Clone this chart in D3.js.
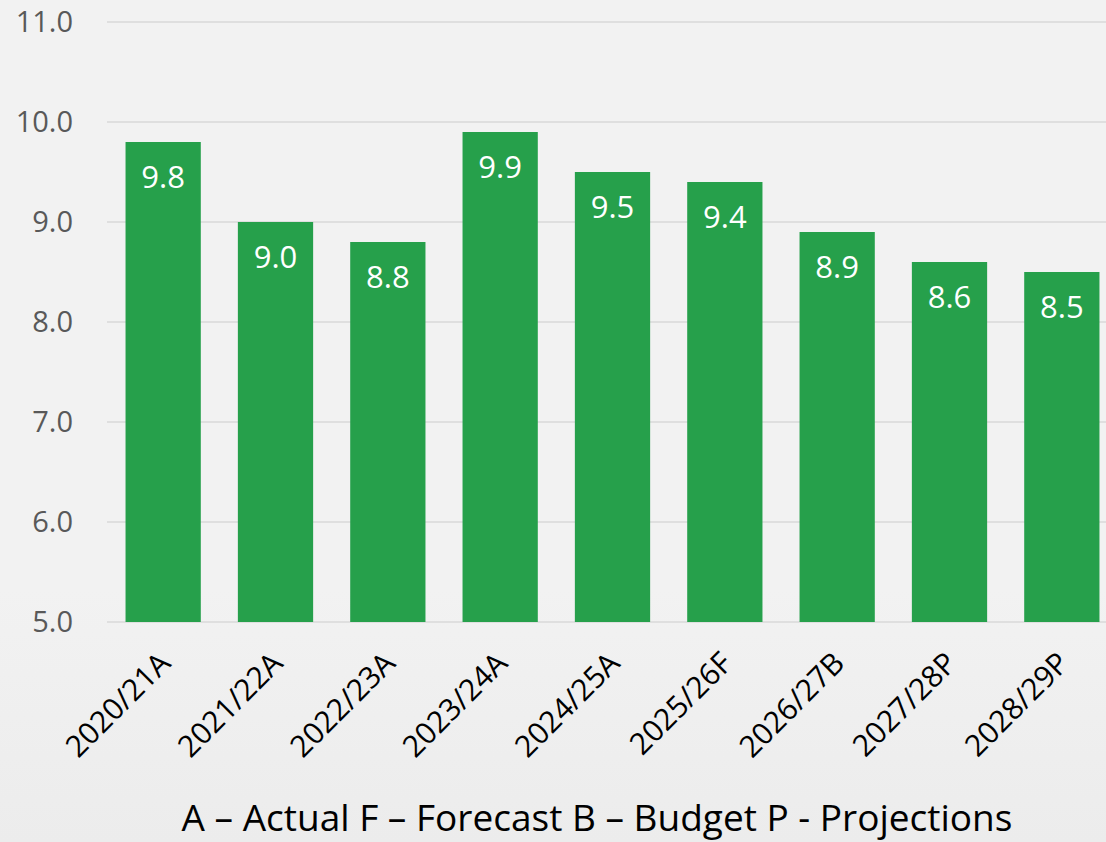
<!DOCTYPE html>
<html>
<head>
<meta charset="utf-8">
<script src="https://cdn.jsdelivr.net/npm/d3@7"></script>
<style>
  body { margin: 0; background: #f2f2f2; }
  svg { display: block; font-family: 'Open Sans', 'Noto Sans', sans-serif; }
</style>
</head>
<body>
<svg class="chart"></svg>
<script>
// chart data
const years = ['2020/21A', '2021/22A', '2022/23A', '2023/24A', '2024/25A', '2025/26F', '2026/27B', '2027/28P', '2028/29P']
const values = [9.8, 9.0, 8.8, 9.9, 9.5, 9.4, 8.9, 8.6, 8.5]
const yTicks = [5, 6, 7, 8, 9, 10, 11]
const note = 'A – Actual F – Forecast B – Budget P - Projections'

const width = 1106
const height = 842
const margin = { top: 22, right: -12, bottom: 220, left: 107 }

const svg = d3.select('.chart')
  .attr('width', width)
  .attr('height', height)

// faint darker band at the bottom, like the backdrop picture
const defs = svg.append('defs')
const grad = defs.append('linearGradient')
  .attr('id', 'bg')
  .attr('x1', 0).attr('y1', 0).attr('x2', 0).attr('y2', 1)
grad.append('stop').attr('offset', '0.7').attr('stop-color', '#f2f2f2')
grad.append('stop').attr('offset', '1').attr('stop-color', '#ececec')
svg.append('rect')
  .attr('width', width)
  .attr('height', height)
  .attr('fill', 'url(#bg)')

const x = d3.scaleBand()
  .domain(years)
  .range([margin.left, width - margin.right])
  .paddingInner(0.33)
  .paddingOuter(0.165)

const y = d3.scaleLinear()
  .domain([5, 11])
  .range([height - margin.bottom, margin.top])

// gridlines
svg.append('g')
  .selectAll('line')
  .data(yTicks)
  .enter()
  .append('line')
  .attr('x1', margin.left)
  .attr('x2', width)
  .attr('y1', d => y(d))
  .attr('y2', d => y(d))
  .attr('stroke', '#d9d9d9')
  .attr('stroke-width', 1.5)

// y axis labels
const yAxis = svg.append('g')
  .attr('transform', `translate(${margin.left - 34},0)`)
  .call(d3.axisLeft(y).tickValues(yTicks).tickFormat(d3.format('.1f')).tickSize(0).tickPadding(0))
yAxis.select('.domain').remove()
yAxis.selectAll('text')
  .attr('font-size', 29)
  .attr('fill', '#595959')
  .attr('font-family', "'Open Sans', 'Noto Sans', sans-serif")

// bars
svg.append('g')
  .selectAll('rect')
  .data(values)
  .enter()
  .append('rect')
  .attr('x', (d, i) => x(years[i]))
  .attr('y', d => y(d))
  .attr('width', x.bandwidth())
  .attr('height', d => y(5) - y(d))
  .attr('fill', '#26a04b')

// value labels
svg.append('g')
  .selectAll('text')
  .data(values)
  .enter()
  .append('text')
  .attr('x', (d, i) => x(years[i]) + x.bandwidth() / 2)
  .attr('y', d => y(d) + 46)
  .attr('text-anchor', 'middle')
  .attr('fill', '#ffffff')
  .attr('font-size', 31)
  .text(d => d.toFixed(1))

// x axis labels, rotated
svg.append('g')
  .selectAll('text')
  .data(years)
  .enter()
  .append('text')
  .attr('transform', d => `translate(${x(d) + x.bandwidth() / 2 + 9},${y(5) + 43}) rotate(-45)`)
  .attr('text-anchor', 'end')
  .attr('font-size', 30)
  .attr('fill', '#000000')
  .text(d => d)

// footnote
svg.append('text')
  .attr('x', 597)
  .attr('y', 831)
  .attr('text-anchor', 'middle')
  .attr('font-size', 37)
  .attr('fill', '#000000')
  .text(note)
</script>
</body>
</html>
